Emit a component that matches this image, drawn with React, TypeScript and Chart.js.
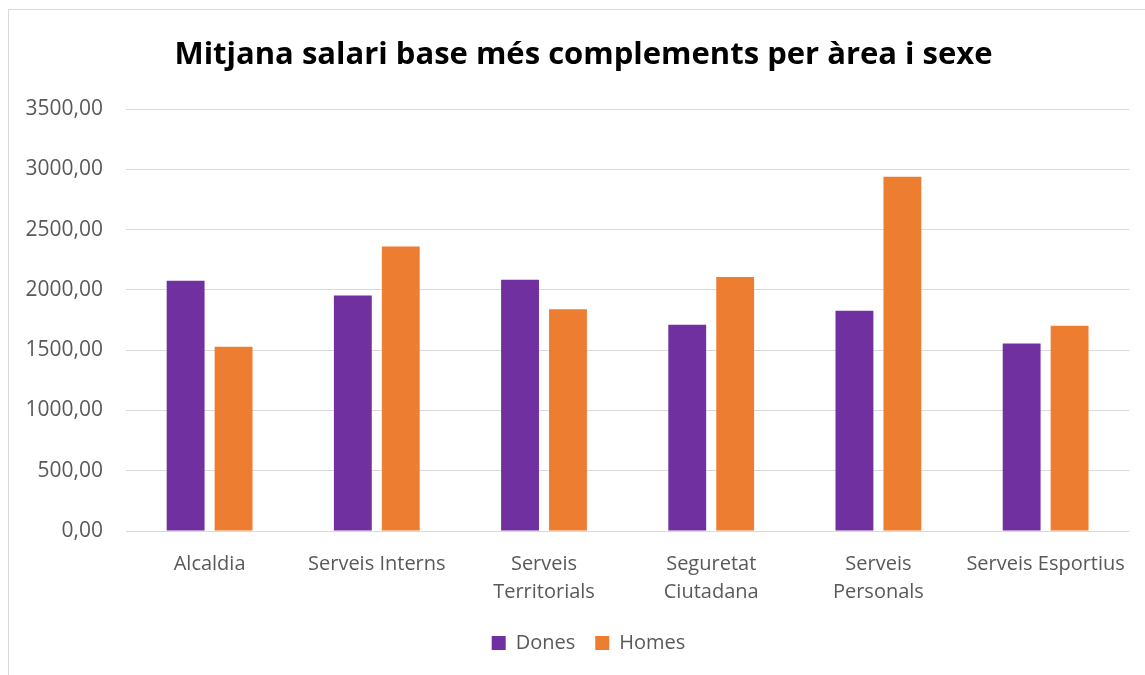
import React, { useEffect, useRef } from "react";
import { Chart, registerables } from "chart.js";

Chart.register(...registerables);

const chartTitle = "Mitjana salari base més complements per àrea i sexe";
const categoryLabels: string[][] = [
  ["Alcaldia"],
  ["Serveis Interns"],
  ["Serveis", "Territorials"],
  ["Seguretat", "Ciutadana"],
  ["Serveis", "Personals"],
  ["Serveis Esportius"],
];
const seriesNames = ["Dones", "Homes"];
const donesValues = [2076, 1954, 2085, 1711, 1827, 1556];
const homesValues = [1528, 2360, 1841, 2107, 2940, 1703];
const yMin = 0;
const yMax = 3500;
const yStep = 500;

const PURPLE = "#7030a0";
const ORANGE = "#ed7d31";
const TEXT = "#595959";
const GRID = "#d9d9d9";
const FONT = "'Open Sans', sans-serif";

const shiftPlugin = {
  id: "shiftBlocks",
  afterUpdate(chart: any) {
    const t = chart.titleBlock;
    if (t) {
      t.left += 18;
      t.right += 18;
    }
    const l = chart.legend;
    if (l) {
      l.left += 23;
      l.right += 23;
      if (typeof l.adjustHitBoxes === "function") l.adjustHitBoxes();
    }
  },
};

export default function App() {
  const ref = useRef<HTMLCanvasElement | null>(null);

  useEffect(() => {
    if (!ref.current) return;
    const chart = new Chart(ref.current, {
      type: "bar",
      data: {
        labels: categoryLabels,
        datasets: [
          {
            label: seriesNames[0],
            data: donesValues,
            backgroundColor: PURPLE,
            barPercentage: 0.79,
            categoryPercentage: 0.5735,
          },
          {
            label: seriesNames[1],
            data: homesValues,
            backgroundColor: ORANGE,
            barPercentage: 0.79,
            categoryPercentage: 0.5735,
          },
        ],
      },
      plugins: [shiftPlugin],
      options: {
        responsive: false,
        animation: false,
        layout: { padding: { left: 0, right: 14, top: 0, bottom: 12 } },
        scales: {
          x: {
            grid: { display: false, drawTicks: false },
            border: { display: false },
            ticks: {
              color: TEXT,
              font: { family: FONT, size: 20, lineHeight: 1.4 },
              padding: 19,
              maxRotation: 0,
              autoSkip: false,
            },
            afterFit: (scale: any) => {
              scale.height = 82;
            },
          },
          y: {
            min: yMin,
            max: yMax,
            grid: { color: GRID, lineWidth: 1, drawTicks: false },
            border: { display: false },
            ticks: {
              stepSize: yStep,
              color: TEXT,
              font: { family: FONT, size: 21 },
              padding: 23,
              callback: (v: any) => Number(v).toFixed(2).replace(".", ","),
            },
            afterFit: (scale: any) => {
              scale.width = 126;
            },
          },
        },
        plugins: {
          title: {
            display: true,
            text: chartTitle,
            color: "#000000",
            font: { family: FONT, size: 31, weight: "bold", lineHeight: 1.2 },
            padding: { top: 37, bottom: 35 },
          },
          legend: {
            position: "bottom",
            labels: {
              color: TEXT,
              font: { family: FONT, size: 20 },
              boxWidth: 14,
              boxHeight: 14,
              padding: 20,
            },
          },
          tooltip: { enabled: false },
        },
      },
    });
    return () => chart.destroy();
  }, []);

  return (
    <div style={{ position: "absolute", left: 0, top: 0, width: 1145, height: 675, overflow: "hidden", background: "#fff" }}>
      <div
        style={{
          position: "absolute",
          left: 8,
          top: 9,
          width: 1200,
          height: 700,
          border: `1px solid ${GRID}`,
          boxSizing: "border-box",
        }}
      />
      <canvas ref={ref} width={1145} height={675} style={{ position: "absolute", left: 0, top: 0 }} />
    </div>
  );
}
